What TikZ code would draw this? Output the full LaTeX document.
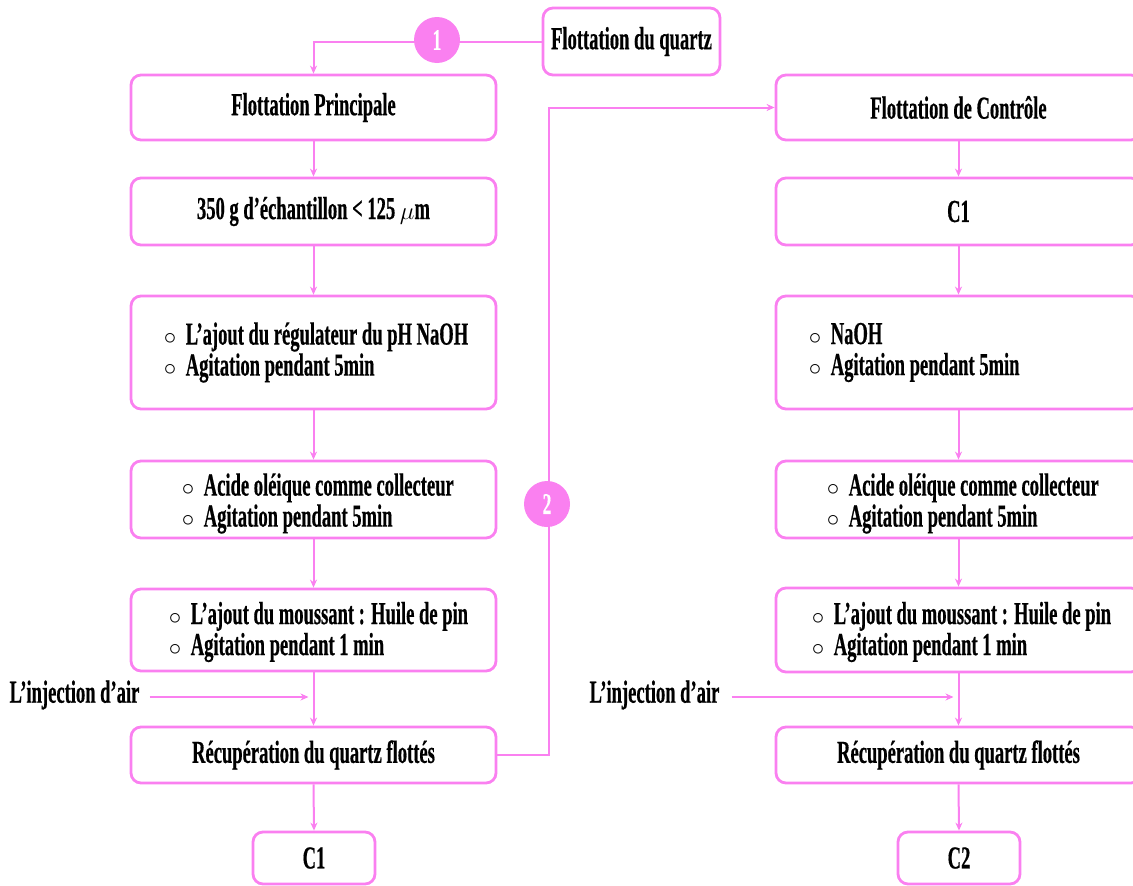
\documentclass[tikz,border=0pt]{standalone}
\usepackage{fontspec}
\setmainfont{Liberation Serif}[FakeStretch=0.58,FakeBold=0.5]
\usetikzlibrary{arrows.meta}
\definecolor{rose}{RGB}{250,128,240}
\newcommand{\itm}{\makebox[22pt][l]{$\circ$}}
\tikzset{
  x=1pt, y=-1pt,
  txt/.style={font=\bfseries\fontsize{32}{31}\selectfont, text=black},
  box/.style={txt, draw=rose, line width=2.8pt, rounded corners=10pt,
    minimum width=365pt, inner sep=0pt},
  items/.style={txt, align=left, inner sep=0pt, anchor=west},
  link/.style={draw=rose, line width=2pt, -{Stealth[length=8pt,width=7pt]}},
  badge/.style={circle, fill=rose, minimum size=46pt, inner sep=0pt,
    text=white, font=\bfseries\fontsize{30}{30}\selectfont},
}
\begin{document}
\begin{tikzpicture}
\useasboundingbox (0,0) rectangle (1133,886);
\clip (0,0) rectangle (1133,886);

% start
\node[box, minimum width=177pt, minimum height=67pt] (top) at (631.5,41.5) {Flottation du quartz};

% main flotation column
\node[box, minimum height=65pt] (p1) at (313.5,107.5) {Flottation Principale};
\node[box, minimum height=67pt] (p2) at (313.5,211.5) {350 g d’échantillon < 125 $\mu$m};
\node[box, minimum height=113pt] (p3) at (313.5,352.5) {};
\node[items] (t3) at ([xshift=34pt]p3.west) {\itm L’ajout du régulateur du pH NaOH\\ \itm Agitation pendant 5min};
\node[box, minimum height=77pt] (p4) at (313.5,499.5) {};
\node[items] (t4) at ([xshift=52pt,yshift=-4pt]p4.west) {\itm Acide oléique comme collecteur\\ \itm Agitation pendant 5min};
\node[box, minimum height=82pt] (p5) at (313.5,630) {};
\node[items] (t5) at ([xshift=39pt,yshift=-2pt]p5.west) {\itm L’ajout du moussant : Huile de pin\\ \itm Agitation pendant 1 min};
\node[box, minimum height=56pt] (p6) at (313.5,755) {Récupération du quartz flottés};
\node[box, minimum width=122pt, minimum height=52pt] (c1) at (314,858) {C1};

% control flotation column
\node[box, minimum height=65pt] (r1) at (958.5,107.5) {Flottation de Contrôle};
\node[box, minimum height=67pt] (r2) at (958.5,211.5) {C1};
\node[box, minimum height=113pt] (r3) at (958.5,352.5) {};
\node[items] (u3) at ([xshift=34pt]r3.west) {\itm NaOH\\ \itm Agitation pendant 5min};
\node[box, minimum height=77pt] (r4) at (958.5,499.5) {};
\node[items] (u4) at ([xshift=52pt,yshift=-4pt]r4.west) {\itm Acide oléique comme collecteur\\ \itm Agitation pendant 5min};
\node[box, minimum height=84pt] (r5) at (958.5,630) {};
\node[items] (u5) at ([xshift=37pt,yshift=-2pt]r5.west) {\itm L’ajout du moussant : Huile de pin\\ \itm Agitation pendant 1 min};
\node[box, minimum height=56pt] (r6) at (958.5,755) {Récupération du quartz flottés};
\node[box, minimum width=122pt, minimum height=52pt] (c2) at (959,858) {C2};

% air injection
\node[txt, inner sep=0pt] (inj1) at (74.5,695) {L’injection d’air};
\node[txt, inner sep=0pt] (inj2) at (654.5,695) {L’injection d’air};
\coordinate (a1) at (313.5,697);
\coordinate (a2) at (958.5,697);

% vertical flow
\foreach \a/\b in {p1/p2,p2/p3,p3/p4,p4/p5,p5/p6,p6/c1,r1/r2,r2/r3,r3/r4,r4/r5,r5/r6,r6/c2}
  \draw[link] (\a.south) -- (\b.north);
\draw[link] ([xshift=10pt]inj1.east |- a1) -- ([xshift=-5pt]a1);
\draw[link] ([xshift=12pt]inj2.east |- a2) -- ([xshift=-5pt]a2);

% loops
\draw[link] (top.west) -| (p1.north);
\draw[link] (p6.east) -- ++(52,0) |- (r1.west);
\node[badge] (n1) at (437,40) {1};
\node[badge] (n2) at (547,504) {2};
\end{tikzpicture}
\end{document}
